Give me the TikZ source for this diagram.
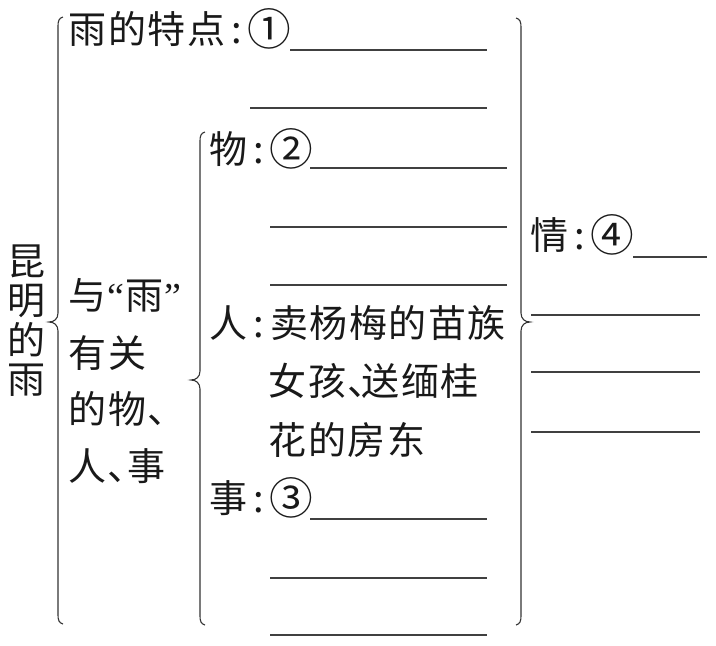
\documentclass[tikz,border=0pt]{standalone}
\usepackage{graphicx}
\usepackage{fontspec}
\newfontfamily\cjk{Noto Sans CJK SC}
\newfontfamily\qfont{Liberation Serif}
\newlength\cpitch
\setlength\cpitch{39.5pt}
\makeatletter
\newcommand\spc[1]{\@tfor\chr:=#1\do{\makebox[\cpitch]{\chr}}}
\makeatother
\newcommand\colo{\makebox[21pt]{:}}
\newcommand\dun[1][12pt]{\makebox[#1][l]{、}}
\newcommand\oq{{\qfont “}}
\newcommand\cq{{\qfont ”}}
\newcommand\circn[1]{\raisebox{-2.2pt}{\scalebox{1.15}{#1}}}
% brace with tip pointing left: X, top, mid, bottom
\newcommand\braceL[4]{%
  \draw[brc] ({#1+5},#2) .. controls ({#1+1},{#2+1}) and (#1,{#2+4}) .. (#1,{#2+9})
    -- (#1,{#3-9}) .. controls (#1,{#3-3}) and ({#1-4},#3) .. ({#1-9},#3)
    .. controls ({#1-4},#3) and (#1,{#3+3}) .. (#1,{#3+9})
    -- (#1,{#4-9}) .. controls (#1,{#4-4}) and ({#1+1},{#4-1}) .. ({#1+5},#4);}
% brace with tip pointing right
\newcommand\braceR[4]{%
  \draw[brc] ({#1-5},#2) .. controls ({#1-1},{#2+1}) and (#1,{#2+4}) .. (#1,{#2+9})
    -- (#1,{#3-9}) .. controls (#1,{#3-3}) and ({#1+4},#3) .. ({#1+9},#3)
    .. controls ({#1+4},#3) and (#1,{#3+3}) .. (#1,{#3+9})
    -- (#1,{#4-9}) .. controls (#1,{#4-4}) and ({#1-1},{#4-1}) .. ({#1-5},#4);}
\begin{document}
\begin{tikzpicture}[x=1pt,y=-1pt,
  txt/.style={font=\cjk\fontsize{38}{40}\selectfont, inner sep=0pt, anchor=west,
    text height=33.4pt, text depth=4.6pt, text=black!90},
  blank/.style={draw=black!75, line width=1.3pt},
  brc/.style={draw=black!80, line width=1.1pt}]
\useasboundingbox[fill=white] (0,0) rectangle (716,646);

% vertical title
\node[txt, anchor=center] (k1) at (26,261) {昆};
\node[txt, anchor=center] (k2) at (26,300.5) {明};
\node[txt, anchor=center] (k3) at (26,340) {的};
\node[txt, anchor=center] (k4) at (26,379.5) {雨};

% braces
\braceL{58}{17}{322}{624}
\braceL{200}{132}{380}{625}
\braceR{521}{18}{322}{625}

% first branch
\node[txt] (t1) at (68,29) {\spc{雨的特点}\colo\circn{①}};
\draw[blank] (290,50) -- (487,50);
\draw[blank] (250,108) -- (487,108);

% second branch label
\node[txt] (y1) at (68,295) {\spc{与}\oq\spc{雨}\cq};
\node[txt] (y2) at (68,353) {\spc{有关}};
\node[txt] (y3) at (68,409) {\spc{的物}\dun[19pt]};
\node[txt] (y4) at (68,466) {\spc{人}\dun[19pt]\spc{事}};

% 物
\node[txt] (w1) at (209,149) {\spc{物}\colo\circn{②}};
\draw[blank] (310,168) -- (507,168);
\draw[blank] (270,227) -- (507,227);
\draw[blank] (270,285) -- (507,285);

% 人
\node[txt] (r1) at (209,323) {\spc{人}\colo\spc{卖杨梅的苗族}};
\node[txt] (r2) at (268,381) {\spc{女孩}\dun[14pt]\spc{送缅桂}};
\node[txt] (r3) at (268,440) {\spc{花的房东}};

% 事
\node[txt] (s1) at (209,498) {\spc{事}\colo\circn{③}};
\draw[blank] (310,519) -- (487,519);
\draw[blank] (270,578) -- (487,578);
\draw[blank] (270,635) -- (487,635);

% 情
\node[txt] (q1) at (530,235) {\spc{情}\colo\circn{④}};
\draw[blank] (633,257) -- (707,257);
\draw[blank] (531,315) -- (700,315);
\draw[blank] (531,372) -- (700,372);
\draw[blank] (531,432) -- (700,432);
\end{tikzpicture}
\end{document}
